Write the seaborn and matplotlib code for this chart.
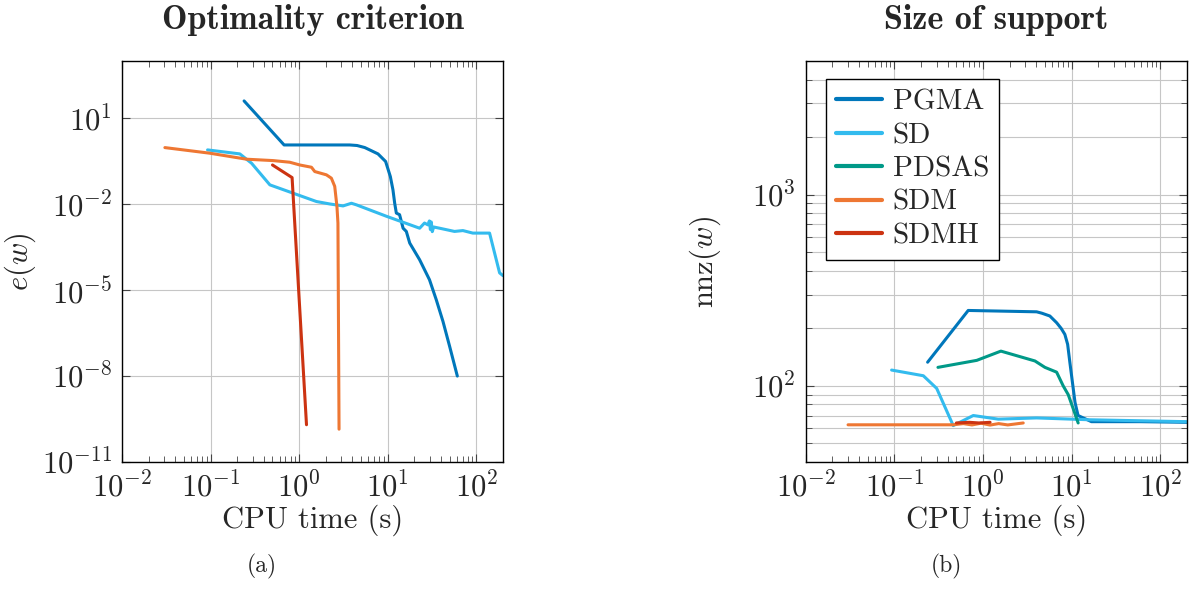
"""Optimality criterion and support size versus CPU time, two log-log panels."""

import matplotlib

matplotlib.use("Agg")

import matplotlib.pyplot as plt
import pandas as pd
import seaborn as sns
from matplotlib.ticker import LogLocator, NullFormatter, NullLocator

METHODS = ["PGMA", "SD", "PDSAS", "SDM", "SDMH"]
COLORS = ["#0077BB", "#33BBEE", "#009988", "#EE7733", "#CC3311"]

# --- panel (a): optimality criterion e(w) ---
OPT_PGMA_T = [0.239, 0.676, 3.72, 4.5, 5.5, 6.25, 7.76, 9.46, 10.7, 11.45, 11.97,
              12.5, 13.6, 14.9, 16.2, 17.7, 22.9, 29.6, 35.3, 42.0, 49.9, 61.0]
OPT_PGMA_E = [40.3, 1.17, 1.17, 1.12, 0.95, 0.787, 0.57, 0.31, 0.092, 0.0316,
              0.0109, 0.0049, 0.0043, 0.00145, 0.00112, 4.4e-4, 1.15e-4, 2.3e-5,
              4.6e-6, 8.1e-7, 1.1e-7, 1.0e-8]

OPT_SD_T = [0.0925, 0.214, 0.290, 0.467, 0.853, 1.567, 2.21, 3.13, 3.89, 4.43, 9.64,
            22.9, 26.0, 28.4, 29.5, 30.3, 31.0, 31.8, 33.0, 38.5, 56.7, 70.5, 91.2,
            141.0, 183.0, 200.0]
OPT_SD_E = [0.787, 0.570, 0.270, 0.0473, 0.0243, 0.0124, 0.0102, 0.0087, 0.0108,
            0.0095, 0.0038, 0.00145, 0.0022, 0.0019, 0.0026, 0.0013, 0.0024, 0.0011,
            0.0016, 0.00145, 0.00112, 0.0012, 0.00098, 0.00098, 4.0e-5, 3.2e-5]

OPT_SDM_T = [0.0305, 0.098, 0.151, 0.255, 0.508, 0.783, 1.016, 1.377, 1.50, 2.03,
             2.31, 2.52, 2.67, 2.74, 2.82]
OPT_SDM_E = [0.946, 0.603, 0.485, 0.372, 0.333, 0.292, 0.234, 0.195, 0.138, 0.106,
             0.081, 0.042, 0.0083, 0.0022, 1.4e-10]

OPT_SDMH_T = [0.5, 0.832, 1.21]
OPT_SDMH_E = [0.234, 0.085, 2.0e-10]

# --- panel (b): size of support nnz(w) ---
NNZ_PGMA_T = [0.237, 0.68, 4.02, 4.6, 5.67, 6.76, 7.6, 8.37, 9.0, 9.55, 10.9, 11.8,
              16.7, 58.9, 198.0]
NNZ_PGMA_N = [133, 248, 244, 240, 232, 214, 200, 186, 165, 132, 82, 70, 65, 65, 64.5]

NNZ_SD_T = [0.093, 0.212, 0.30, 0.461, 0.776, 1.486, 4.02, 16.0, 198.0]
NNZ_SD_N = [121, 113, 97, 62, 70, 67, 68, 66.5, 65]

NNZ_PDSAS_T = [0.31, 0.85, 1.59, 3.85, 4.99, 6.76, 8.02, 9.14, 10.4, 11.83]
NNZ_PDSAS_N = [125, 136, 152, 135, 125, 118, 100, 90, 76, 64]

NNZ_SDM_T = [0.030, 0.46, 0.6, 0.75, 0.95, 1.2, 1.5, 1.9, 2.3, 2.84]
NNZ_SDM_N = [62.6, 62.6, 63.5, 62.5, 63.8, 62.4, 63.5, 62.5, 63.2, 64.0]

NNZ_SDMH_T = [0.5, 0.7, 0.9, 1.2]
NNZ_SDMH_N = [64.0, 64.5, 64.0, 64.5]


def _frame(series: dict, ycol: str) -> pd.DataFrame:
    parts = []
    for name, (t, v) in series.items():
        parts.append(pd.DataFrame({"time": t, ycol: v, "method": name}))
    return pd.concat(parts, ignore_index=True)


def _style_axis(ax) -> None:
    ax.set_xscale("log")
    ax.set_yscale("log")
    ax.set_xlim(1e-2, 2e2)
    ax.set_xticks([1e-2, 1e-1, 1e0, 1e1, 1e2])
    ax.xaxis.set_minor_locator(LogLocator(base=10, subs=range(2, 10), numticks=20))
    ax.xaxis.set_minor_formatter(NullFormatter())
    ax.tick_params(which="both", direction="in", top=True, right=True,
                   color="#444444", labelsize=22, pad=7)
    ax.tick_params(which="major", length=6, width=0.8)
    ax.tick_params(which="minor", length=4, width=0.6)
    ax.grid(True, which="major", color="#c6c6c6", lw=0.8)
    ax.set_axisbelow(True)
    for sp in ax.spines.values():
        sp.set_color("black")
        sp.set_linewidth(1.0)
    ax.set_xlabel("CPU time (s)", fontsize=22)
    ax.xaxis.set_label_coords(0.5, -0.105)


sns.set_theme(style="ticks")
plt.rcParams["font.family"] = ["cmr10", "DejaVu Serif"]
plt.rcParams["mathtext.fontset"] = "cm"
plt.rcParams["axes.unicode_minus"] = False
plt.rcParams["axes.formatter.use_mathtext"] = True

palette = dict(zip(METHODS, COLORS))

opt = _frame({
    "PGMA": (OPT_PGMA_T, OPT_PGMA_E),
    "SD": (OPT_SD_T, OPT_SD_E),
    "SDM": (OPT_SDM_T, OPT_SDM_E),
    "SDMH": (OPT_SDMH_T, OPT_SDMH_E),
}, "e")
nnz = _frame({
    "PGMA": (NNZ_PGMA_T, NNZ_PGMA_N),
    "SD": (NNZ_SD_T, NNZ_SD_N),
    "PDSAS": (NNZ_PDSAS_T, NNZ_PDSAS_N),
    "SDM": (NNZ_SDM_T, NNZ_SDM_N),
    "SDMH": (NNZ_SDMH_T, NNZ_SDMH_N),
}, "nnz")

fig = plt.figure(figsize=(11.9, 5.92), dpi=100)
ax_a = fig.add_axes([0.1025, 0.2196, 0.3202, 0.6774])
ax_b = fig.add_axes([0.6771, 0.2196, 0.3204, 0.6774])

sns.lineplot(data=opt, x="time", y="e", hue="method", hue_order=METHODS,
             palette=palette, estimator=None, sort=False, lw=2.2, legend=False,
             ax=ax_a)
_style_axis(ax_a)
ax_a.set_ylim(1e-11, 1e3)
ax_a.set_yticks([1e-11, 1e-8, 1e-5, 1e-2, 1e1])
ax_a.yaxis.set_minor_locator(NullLocator())
ax_a.set_ylabel(r"$e(w)$", fontsize=22)
ax_a.yaxis.set_label_coords(-0.22, 0.5)

sns.lineplot(data=nnz, x="time", y="nnz", hue="method", hue_order=METHODS,
             palette=palette, estimator=None, sort=False, lw=2.2, ax=ax_b)
_style_axis(ax_b)
ax_b.set_ylim(40, 5000)
ax_b.set_yticks([1e2, 1e3])
ax_b.yaxis.set_minor_locator(LogLocator(base=10, subs=range(2, 10), numticks=20))
ax_b.yaxis.set_minor_formatter(NullFormatter())
ax_b.grid(True, which="minor", axis="y", color="#c6c6c6", lw=0.8)
ax_b.set_ylabel(r"$\mathrm{nnz}(w)$", fontsize=22)
ax_b.yaxis.set_label_coords(-0.217, 0.5)

handles, labels = ax_b.get_legend_handles_labels()
for h in handles:
    h.set_linewidth(3.0)
leg = ax_b.legend(handles, labels, loc="upper left", bbox_to_anchor=(0.052, 0.955),
                  borderaxespad=0, fontsize=21, frameon=True, fancybox=False,
                  framealpha=1, edgecolor="black", handlelength=1.6,
                  handletextpad=0.35, labelspacing=0.24, borderpad=0.35)
leg.get_frame().set_linewidth(1.0)

for ax, title in [(ax_a, "Optimality criterion"), (ax_b, "Size of support")]:
    ax.text(0.5, 1.08, title, transform=ax.transAxes, ha="center", va="baseline",
            fontsize=24.5, family="cmb10")

fig.text(262 / 1190, 1 - 572 / 592, "(a)", ha="center", va="baseline", fontsize=17)
fig.text(946 / 1190, 1 - 572 / 592, "(b)", ha="center", va="baseline", fontsize=17)

fig.savefig("out.png", dpi=100)
